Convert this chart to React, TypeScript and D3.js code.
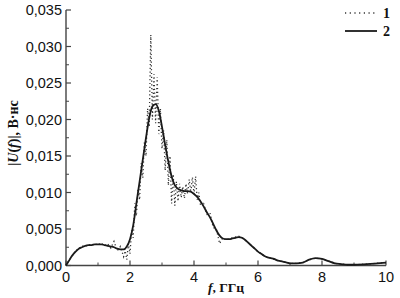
import React from "react";
import * as d3 from "d3";

const xTicks = [0, 2, 4, 6, 8, 10];
const xMinor = [1, 3, 5, 7, 9];
const yTicks = [0, 0.005, 0.01, 0.015, 0.02, 0.025, 0.03, 0.035];
const yTickLabels = ["0,000", "0,005", "0,010", "0,015", "0,020", "0,025", "0,030", "0,035"];
const yMinor = [0.0025, 0.0075, 0.0125, 0.0175, 0.0225, 0.0275, 0.0325];

// Series 2 (smooth)
const f2 = [0, 0.1, 0.2, 0.3, 0.4, 0.5, 0.6, 0.7, 0.8, 0.9, 1.0, 1.1, 1.2, 1.3, 1.4, 1.5, 1.6, 1.7, 1.8, 1.9,
  2.0, 2.1, 2.2, 2.3, 2.4, 2.5, 2.6, 2.7, 2.8, 2.9, 3.0, 3.1, 3.2, 3.3, 3.4, 3.5, 3.6, 3.7, 3.8, 3.9,
  4.0, 4.1, 4.2, 4.3, 4.4, 4.5, 4.6, 4.7, 4.8, 4.9, 5.0, 5.1, 5.2, 5.3, 5.4, 5.5, 5.6, 5.7, 5.8, 5.9,
  6.0, 6.1, 6.2, 6.3, 6.4, 6.5, 6.6, 6.7, 6.8, 6.9, 7.0, 7.2, 7.4, 7.6, 7.8, 8.0, 8.2, 8.4, 8.6, 8.8, 9.0, 9.4, 10.0];
const v2 = [0, 0.0007, 0.0014, 0.0019, 0.0023, 0.0025, 0.0027, 0.0028, 0.0028, 0.0029, 0.0029, 0.0029, 0.0028, 0.0027, 0.0026, 0.0025, 0.0023, 0.0022, 0.0022, 0.0026,
  0.0036, 0.0055, 0.0085, 0.0115, 0.0145, 0.0175, 0.0202, 0.0218, 0.0221, 0.0212, 0.019, 0.0165, 0.0142, 0.0122, 0.011, 0.0105, 0.0103, 0.0102, 0.0102, 0.0101,
  0.0098, 0.0094, 0.0088, 0.0081, 0.0073, 0.0066, 0.0057, 0.0048, 0.0041, 0.0037, 0.0036, 0.0036, 0.0037, 0.0038, 0.0039, 0.0038, 0.0035, 0.0031, 0.0027, 0.0023,
  0.0019, 0.0016, 0.0013, 0.0011, 0.001, 0.0009, 0.0007, 0.0006, 0.0005, 0.0004, 0.0003, 0.0003, 0.0004, 0.0008, 0.001, 0.0009, 0.0006, 0.0003, 0.0002, 0.0001, 0.0001, 0.0002, 0.0004];

// Series 1 (dotted, oscillating)
const f1 = [0, 0.1, 0.2, 0.3, 0.4, 0.5, 0.6, 0.7, 0.8, 0.9, 1.0, 1.1, 1.2, 1.3, 1.4, 1.5, 1.6, 1.7, 1.8, 1.85, 1.9, 1.95,
  2.0, 2.05, 2.1, 2.15, 2.2, 2.25, 2.3, 2.35, 2.4, 2.45, 2.5, 2.55, 2.6, 2.65, 2.7, 2.75, 2.8, 2.85, 2.9, 2.95,
  3.0, 3.05, 3.1, 3.15, 3.2, 3.25, 3.3, 3.35, 3.4, 3.45, 3.5, 3.55, 3.6, 3.65, 3.7, 3.75, 3.8, 3.85, 3.9, 3.95,
  4.0, 4.05, 4.1, 4.15, 4.2, 4.3, 4.4, 4.5, 4.6, 4.7, 4.8, 4.9, 5.0, 5.2, 5.4, 5.6, 5.8, 6.0, 6.2, 6.4, 6.6, 6.8,
  7.0, 7.2, 7.4, 7.6, 7.8, 8.0, 8.2, 8.4, 8.6, 8.8, 9.0, 9.4, 10.0];
const v1 = [0, 0.0008, 0.0013, 0.0021, 0.0022, 0.0027, 0.0026, 0.0029, 0.0027, 0.003, 0.0028, 0.0031, 0.0027, 0.003, 0.0024, 0.0033, 0.002, 0.0026, 0.0012, 0.002, 0.0008, 0.003,
  0.0016, 0.0048, 0.0038, 0.0085, 0.0068, 0.0105, 0.009, 0.014, 0.012, 0.017, 0.015, 0.0215, 0.019, 0.0316, 0.02, 0.0262, 0.0195, 0.0258, 0.018, 0.0215,
  0.016, 0.0185, 0.013, 0.0172, 0.011, 0.015, 0.0085, 0.0125, 0.0082, 0.0115, 0.0088, 0.0112, 0.0093, 0.0108, 0.0092, 0.0112, 0.0098, 0.0118, 0.01, 0.0121,
  0.0098, 0.0122, 0.009, 0.01, 0.0084, 0.0085, 0.007, 0.0072, 0.0052, 0.005, 0.003, 0.0038, 0.0035, 0.0038, 0.004, 0.0035, 0.0027, 0.0019, 0.0013, 0.001, 0.0007, 0.0005,
  0.0003, 0.0003, 0.0004, 0.0008, 0.001, 0.0009, 0.0006, 0.0003, 0.0002, 0.0001, 0.0001, 0.0002, 0.0004];

const W = 400, H = 298;
const X0 = 66, X1 = 386, Y0 = 265.5, Y1 = 10;

export default function App() {
  const x = d3.scaleLinear().domain([0, 10]).range([X0, X1]);
  const y = d3.scaleLinear().domain([0, 0.035]).range([Y0, Y1]);
  const pts2: [number, number][] = f2.map((f, i) => [f, v2[i]]);
  const pts1: [number, number][] = f1.map((f, i) => [f, v1[i]]);
  const smooth = d3.line<[number, number]>().x(d => x(d[0])).y(d => y(d[1])).curve(d3.curveMonotoneX);
  const lin = d3.line<[number, number]>().x(d => x(d[0])).y(d => y(d[1]));
  const axisColor = "#444";
  const tickFont = "'Liberation Sans', Arial, sans-serif";
  const serif = "'Liberation Serif', 'Times New Roman', serif";
  return (
    <svg width={W} height={H} style={{ position: "absolute", left: 0, top: 0, background: "#fff" }}>
      <rect x={0} y={0} width={W} height={H} fill="#fff" />
      {/* axes */}
      <line x1={X0} x2={X0} y1={Y1} y2={Y0} stroke={axisColor} strokeWidth={1.4} />
      <line x1={X0} x2={X1} y1={Y0} y2={Y0} stroke={axisColor} strokeWidth={1.4} />
      {yTicks.map((t, i) => (
        <g key={"y" + i}>
          <line x1={X0} x2={X0 + 5} y1={y(t)} y2={y(t)} stroke={axisColor} strokeWidth={1.2} />
          <text x={X0 - 4} y={y(t)} dy="0.36em" textAnchor="end" fontFamily={tickFont} fontSize={14.5} fill="#111">{yTickLabels[i]}</text>
        </g>
      ))}
      {yMinor.map((t, i) => (
        <line key={"ym" + i} x1={X0} x2={X0 + 3} y1={y(t)} y2={y(t)} stroke={axisColor} strokeWidth={1} />
      ))}
      {xTicks.map((t, i) => (
        <g key={"x" + i}>
          <line x1={x(t)} x2={x(t)} y1={Y0} y2={Y0 - 5} stroke={axisColor} strokeWidth={1.2} />
          <text x={x(t)} y={282} textAnchor="middle" fontFamily={tickFont} fontSize={14.5} fill="#111">{t}</text>
        </g>
      ))}
      {xMinor.map((t, i) => (
        <line key={"xm" + i} x1={x(t)} x2={x(t)} y1={Y0} y2={Y0 - 3} stroke={axisColor} strokeWidth={1} />
      ))}
      {/* series */}
      <path d={lin(pts1) || ""} fill="none" stroke="#333" strokeWidth={1.3} strokeDasharray="1.2,2.6" />
      <path d={smooth(pts2) || ""} fill="none" stroke="#1a1a1a" strokeWidth={1.8} />
      {/* axis labels */}
      <text x={226} y={292} textAnchor="middle" fontFamily={serif} fontSize={13.5} fontWeight="bold" fill="#111">
        <tspan fontStyle="italic">f</tspan>, ГГц
      </text>
      <text transform="translate(18,133) rotate(-90)" textAnchor="middle" fontFamily={serif} fontSize={14} fontWeight="bold" fill="#111">
        |<tspan fontStyle="italic">U</tspan>(<tspan fontStyle="italic">f</tspan>)|, В·нс
      </text>
      {/* legend */}
      <line x1={345} x2={377} y1={13} y2={13} stroke="#333" strokeWidth={1.3} strokeDasharray="1.2,3.5" />
      <text x={383} y={18} fontFamily={serif} fontSize={14} fontWeight="bold" fill="#111">1</text>
      <line x1={345} x2={377} y1={31} y2={31} stroke="#1a1a1a" strokeWidth={1.8} />
      <text x={383} y={36} fontFamily={serif} fontSize={14} fontWeight="bold" fill="#111">2</text>
    </svg>
  );
}
